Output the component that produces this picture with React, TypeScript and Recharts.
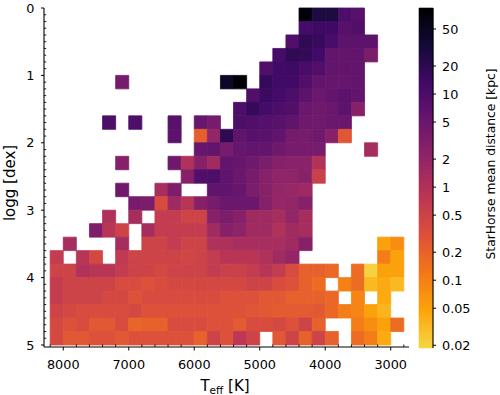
import React from 'react';
import { ScatterChart, Scatter, XAxis, YAxis, ReferenceArea } from 'recharts';

const _ = null;

// Teff bin edges [K], hot (left) to cool (right)
const teffEdges = [8200, 8000, 7800, 7600, 7400, 7200, 7000, 6800, 6600, 6400, 6200, 6000, 5800, 5600,
  5400, 5200, 5000, 4800, 4600, 4400, 4200, 4000, 3800, 3600, 3400, 3200, 3000, 2800];
// logg bin edges [dex]
const loggEdges = [0, 0.2, 0.4, 0.6, 0.8, 1.0, 1.2, 1.4, 1.6, 1.8, 2.0, 2.2, 2.4, 2.6, 2.8, 3.0,
  3.2, 3.4, 3.6, 3.8, 4.0, 4.2, 4.4, 4.6, 4.8, 5.0];

const teffTicks = [8000, 7000, 6000, 5000, 4000, 3000];
const loggTicks = [0, 1, 2, 3, 4, 5];
const cbarTicks = [0.02, 0.05, 0.1, 0.2, 0.5, 1, 2, 5, 10, 20, 50];

// StarHorse mean distance [kpc] per bin: one array per logg bin, columns follow teffEdges
const g00 = [_, _, _, _, _, _, _, _, _, _, _, _, _, _, _, _, _, _, _, 77, 28, 28, 10, 8, _, _, _];
const g02 = [_, _, _, _, _, _, _, _, _, _, _, _, _, _, _, _, _, _, _, 12, 14, 14, 8, 9, _, _, _];
const g04 = [_, _, _, _, _, _, _, _, _, _, _, _, _, _, _, _, _, _, 9, 19, 16, 11, 7, 7, 7, _, _];
const g06 = [_, _, _, _, _, _, _, _, _, _, _, _, _, _, _, _, _, 12, 19, 18, 13, 6, 6, 6, 3.5, _, _];
const g08 = [_, _, _, _, _, _, _, _, _, _, _, _, _, _, _, _, 9, 13, 14, 11, 9, 6, 6, 6, _, _, _];
const g10 = [_, _, _, _, _, 3.8, _, _, _, _, _, _, _, 45, 78, _, 17, 13, 13, 9, 6, 5.5, 5.5, 6, _, _, _];
const g12 = [_, _, _, _, _, _, _, _, _, _, _, _, _, _, _, 9, 15, 12, 10, 7, 5, 6, 7, 6, _, _, _];
const g14 = [_, _, _, _, _, _, _, _, _, _, _, _, _, _, 10, 17, 12, 10, 9, 5, 4.5, 5, 7, 2.7, _, _, _];
const g16 = [_, _, _, _, 10, _, 9.5, _, _, 8, _, 5.5, 3.8, _, 10, 9, 8.5, 7.5, 6.5, 4.5, 4.3, 5, 5, _, _, _, _];
const g18 = [_, _, _, _, _, _, _, _, _, 7, _, 0.22, 2.0, 20, 6.5, 8, 7.5, 6.5, 4, 3.8, 4.5, 2.7, 0.27, _, _, _, _];
const g20 = [_, _, _, _, _, _, _, _, _, _, _, 5.5, 6, 3.8, 5.5, 6, 6, 4.5, 3.8, 3.8, 3.8, _, _, _, 1.3, _, _];
const g22 = [_, _, _, _, _, 2.7, _, _, _, 4.5, 1.05, 2.7, 1.5, 6, 5.5, 4.5, 3.5, 2.7, 2.5, 2.5, 1.0, _, _, _, _, _, _];
const g24 = [_, _, _, _, _, _, _, _, _, _, 2.7, 9, 10, 6.5, 5, 3.8, 2.7, 2.2, 2.2, 2.6, 0.55, _, _, _, _, _, _];
const g26 = [_, _, _, _, _, 4.5, _, _, 1.3, 3.2, _, _, 6.5, 6.5, 5.5, 3.5, 2.6, 2.0, 1.8, 1.6, _, _, _, _, _, _, _];
const g28 = [_, _, _, _, _, _, 3.8, 3.5, 0.37, 1.6, 0.87, 2.7, 3.8, 5, 5, 5, 2.7, 1.9, 2.0, 2.7, _, _, _, _, _, _, _];
const g30 = [_, _, _, _, 1.05, _, 1.3, _, 0.65, 0.65, 0.5, 0.5, 2.7, 3.5, 2.7, 1.5, 1.5, 1.3, 2.0, 1.3, _, _, _, _, _, _, _];
const g32 = [_, _, _, 3.2, 0.87, 0.5, _, 1.3, 0.65, 0.65, 0.65, 0.65, 1.5, 2.7, 2.3, 1.5, 1.5, 1.05, 1.5, 1.3, _, _, _, _, _, _, _];
const g34 = [_, 1.3, _, _, _, 1.3, _, 0.5, 0.5, 0.65, 0.5, 0.5, 1.05, 1.1, 1.26, 1.26, 1.26, 1.26, 1.5, 2.7, _, _, _, _, _, 0.052, 0.076];
const g36 = [0.65, _, 0.87, 0.41, _, 0.7, 0.5, 0.5, 0.5, 0.5, 0.45, 0.5, 0.65, 0.87, 0.87, 0.87, 1.05, 1.5, 2.0, _, _, _, _, _, _, 0.11, 0.052];
const g38 = [0.5, 0.5, 1.0, 0.87, 0.87, 0.65, 0.5, 0.5, 0.41, 0.5, 0.5, 0.5, 0.65, 0.55, 0.55, 0.65, 0.87, 0.65, 0.37, 0.21, 0.21, 0.18, _, 0.16, 0.021, 0.052, 0.052];
const g40 = [0.65, 0.5, 0.5, 0.5, 0.5, 0.37, 0.37, 0.31, 0.37, 0.41, 0.41, 0.41, 0.41, 0.41, 0.41, 0.5, 0.5, 0.37, 0.31, 0.21, 0.16, _, 0.1, 0.16, 0.033, 0.043, 0.033];
const g42 = [0.65, 0.5, 0.5, 0.5, 0.41, 0.41, 0.31, 0.37, 0.37, 0.37, 0.37, 0.37, 0.37, 0.31, 0.31, 0.31, 0.26, 0.26, 0.21, 0.21, 0.21, 0.18, _, 0.092, _, 0.043, _];
const g44 = [0.5, 0.41, 0.37, 0.37, 0.37, 0.37, 0.41, 0.31, 0.31, 0.31, 0.31, 0.31, 0.31, 0.31, 0.31, 0.28, 0.26, 0.24, 0.24, 0.24, 0.26, 0.18, 0.11, 0.092, 0.052, 0.035, _];
const g46 = [0.41, 0.31, 0.37, 0.26, 0.26, 0.37, 0.19, 0.21, 0.21, 0.37, 0.37, 0.37, 0.31, 0.31, 0.24, 0.37, 0.37, 0.41, 0.31, 0.5, 0.21, _, _, 0.11, 0.076, 0.052, 0.16];
const g48 = [0.41, 0.26, 0.26, 0.31, 0.31, 0.26, 0.31, 0.31, 0.31, 0.31, 0.31, 0.21, 0.5, 0.31, 0.75, 0.5, _, 0.26, 0.5, 0.21, 0.5, 0.21, _, 0.16, 0.11, 0.043, _];

const meanDist = [g00, g02, g04, g06, g08, g10, g12, g14, g16, g18, g20, g22, g24, g26, g28, g30,
  g32, g34, g36, g38, g40, g42, g44, g46, g48];

const TEFF_DOMAIN = [2721, 8294];
const LOGG_DOMAIN = [0, 5.03];
const CMIN = 0.0187;
const CMAX = 84;
const FONT = '"DejaVu Sans", sans-serif';
const TICK_FS = 12.8;

// inferno, sampled every 0.1
const INFERNO = [[0, 0, 4], [22, 11, 57], [66, 10, 104], [106, 23, 110], [147, 38, 103], [188, 55, 84],
  [221, 81, 58], [243, 120, 25], [252, 165, 10], [246, 215, 70], [252, 255, 164]];

const inferno = (t: number) => {
  const x = Math.min(Math.max(t, 0), 1) * 10;
  const i = Math.min(Math.floor(x), 9);
  const f = x - i;
  const a = INFERNO[i];
  const b = INFERNO[i + 1];
  const c = a.map((v, k) => Math.round(v + (b[k] - v) * f));
  return `rgb(${c[0]},${c[1]},${c[2]})`;
};

const LMIN = Math.log10(CMIN);
const LMAX = Math.log10(CMAX);
// reversed, truncated inferno on a log norm
const colorOf = (v: number) => inferno(0.9 * (1 - (Math.log10(v) - LMIN) / (LMAX - LMIN)));

const cells: any[] = [];
meanDist.forEach((row, j) => {
  row.forEach((v, k) => {
    if (v == null) return;
    cells.push({
      t1: teffEdges[k + 1], t2: teffEdges[k],
      g1: loggEdges[j], g2: loggEdges[j + 1],
      teff: (teffEdges[k] + teffEdges[k + 1]) / 2,
      logg: (loggEdges[j] + loggEdges[j + 1]) / 2,
      dist: v,
    });
  });
});

// all tick positions (major + minor)
const teffAllTicks: number[] = [];
for (let t = 2800; t <= 8200; t += 200) teffAllTicks.push(t);
const loggAllTicks: number[] = [];
for (let i = 0; i <= 50; i++) loggAllTicks.push(i / 10);

// colorbar slices in log space
const N_SLICES = 170;
const slices = Array.from({ length: N_SLICES }, (_x, i) => {
  const lo = LMIN + ((LMAX - LMIN) * i) / N_SLICES;
  const hi = LMIN + ((LMAX - LMIN) * (i + 1)) / N_SLICES;
  return { lo: Math.pow(10, lo), hi: Math.pow(10, hi), mid: Math.pow(10, (lo + hi) / 2) };
});

// bottom axis: majors point out with a label, minors point in
const TeffTick = (props: any) => {
  const { x, y, payload } = props;
  if (teffTicks.includes(payload.value)) {
    return (
      <g>
        <line x1={x} x2={x} y1={y} y2={y + 3.5} stroke="#000" strokeWidth={1} />
        <text x={x} y={y + 12.6} dy="0.71em" textAnchor="middle" fontSize={TICK_FS} fontFamily={FONT} fill="#000">
          {payload.value}
        </text>
      </g>
    );
  }
  return <line x1={x} x2={x} y1={y} y2={y - 2.5} stroke="#000" strokeWidth={0.9} />;
};

// left axis: same idea
const LoggTick = (props: any) => {
  const { x, y, payload } = props;
  if (loggTicks.includes(payload.value)) {
    return (
      <g>
        <line x1={x - 3} x2={x} y1={y} y2={y} stroke="#000" strokeWidth={1} />
        <text x={x - 9.5} y={y} dy="0.355em" textAnchor="end" fontSize={TICK_FS} fontFamily={FONT} fill="#000">
          {payload.value}
        </text>
      </g>
    );
  }
  return <line x1={x} x2={x + 2.2} y1={y} y2={y} stroke="#000" strokeWidth={0.9} />;
};

const line = { stroke: '#000', strokeWidth: 1.1 };

const App = () => {
  return (
    <div style={{ position: 'absolute', left: 0, top: 0, width: 500, height: 395, background: '#fff' }}>
      <div style={{ position: 'absolute', left: 0, top: 0 }}>
        <ScatterChart width={500} height={395} margin={{ top: 8, right: 91, bottom: 18, left: 4 }}>
          {cells.map((c, i) => (
            <ReferenceArea key={i} xAxisId="main" yAxisId="main" x1={c.t1} x2={c.t2} y1={c.g1} y2={c.g2}
              fill={colorOf(c.dist)} fillOpacity={1} stroke={colorOf(c.dist)} strokeWidth={0.8} />
          ))}
          <Scatter xAxisId="main" yAxisId="main" data={cells} dataKey="logg" isAnimationActive={false}
            shape={() => <g />} />
          <XAxis xAxisId="main" type="number" dataKey="teff" domain={TEFF_DOMAIN} reversed allowDataOverflow
            ticks={teffAllTicks} interval={0} tickSize={0} tickMargin={0} height={30} axisLine={line}
            tickLine={false} tick={<TeffTick />} />
          <XAxis xAxisId="top" orientation="top" type="number" domain={TEFF_DOMAIN} reversed allowDataOverflow
            height={0} tick={false} tickLine={false} axisLine={line} />
          <YAxis yAxisId="main" type="number" dataKey="logg" domain={LOGG_DOMAIN} reversed allowDataOverflow
            ticks={loggAllTicks} interval={0} tickSize={0} tickMargin={0} width={40} axisLine={line}
            tickLine={false} tick={<LoggTick />} />
          <YAxis yAxisId="right" orientation="right" type="number" domain={LOGG_DOMAIN} reversed allowDataOverflow
            width={0} tick={false} tickLine={false} axisLine={line} />
        </ScatterChart>
      </div>
      <div style={{ position: 'absolute', left: 0, top: 0 }}>
        <ScatterChart width={500} height={395} margin={{ top: 8, right: 7, bottom: 47, left: 419 }}>
          {slices.map((s, i) => (
            <ReferenceArea key={i} xAxisId="c" yAxisId="c" x1={0} x2={1} y1={s.lo} y2={s.hi}
              fill={colorOf(s.mid)} fillOpacity={1} stroke={colorOf(s.mid)} strokeWidth={0.6} />
          ))}
          <Scatter xAxisId="c" yAxisId="c" data={[{ x: 0.5, y: 1 }]} dataKey="y" isAnimationActive={false}
            shape={() => <g />} />
          <XAxis xAxisId="c" type="number" dataKey="x" domain={[0, 1]} allowDataOverflow height={0}
            tick={false} tickLine={false} axisLine={line} />
          <XAxis xAxisId="ctop" orientation="top" type="number" domain={[0, 1]} allowDataOverflow height={0}
            tick={false} tickLine={false} axisLine={line} />
          <YAxis yAxisId="cleft" type="number" domain={[0, 1]} allowDataOverflow width={0}
            tick={false} tickLine={false} axisLine={line} />
          <YAxis yAxisId="c" orientation="right" type="number" dataKey="y" scale="log" domain={[CMIN, CMAX]}
            allowDataOverflow ticks={cbarTicks} interval={0} tickSize={3} tickMargin={6} width={60}
            axisLine={line} tickLine={{ stroke: '#000' }}
            tick={{ fill: '#000', fontSize: TICK_FS, fontFamily: FONT }}
            tickFormatter={(v: number) => String(v)} />
        </ScatterChart>
      </div>
      <svg width={500} height={395} style={{ position: 'absolute', left: 0, top: 0, pointerEvents: 'none' }}
        fontFamily={FONT}>
        <text x={225} y={391} textAnchor="middle" fontSize={15} fill="#000">
          T<tspan fontSize={10.5} dy={3}>eff</tspan><tspan dy={-3}> [K]</tspan>
        </text>
        <text transform="translate(14.5,183) rotate(-90)" textAnchor="middle" fontSize={15} fill="#000">
          logg [dex]
        </text>
        <text transform="translate(495,164) rotate(-90)" textAnchor="middle" fontSize={12.3} fill="#000">
          StarHorse mean distance [kpc]
        </text>
      </svg>
    </div>
  );
};

export default App;
